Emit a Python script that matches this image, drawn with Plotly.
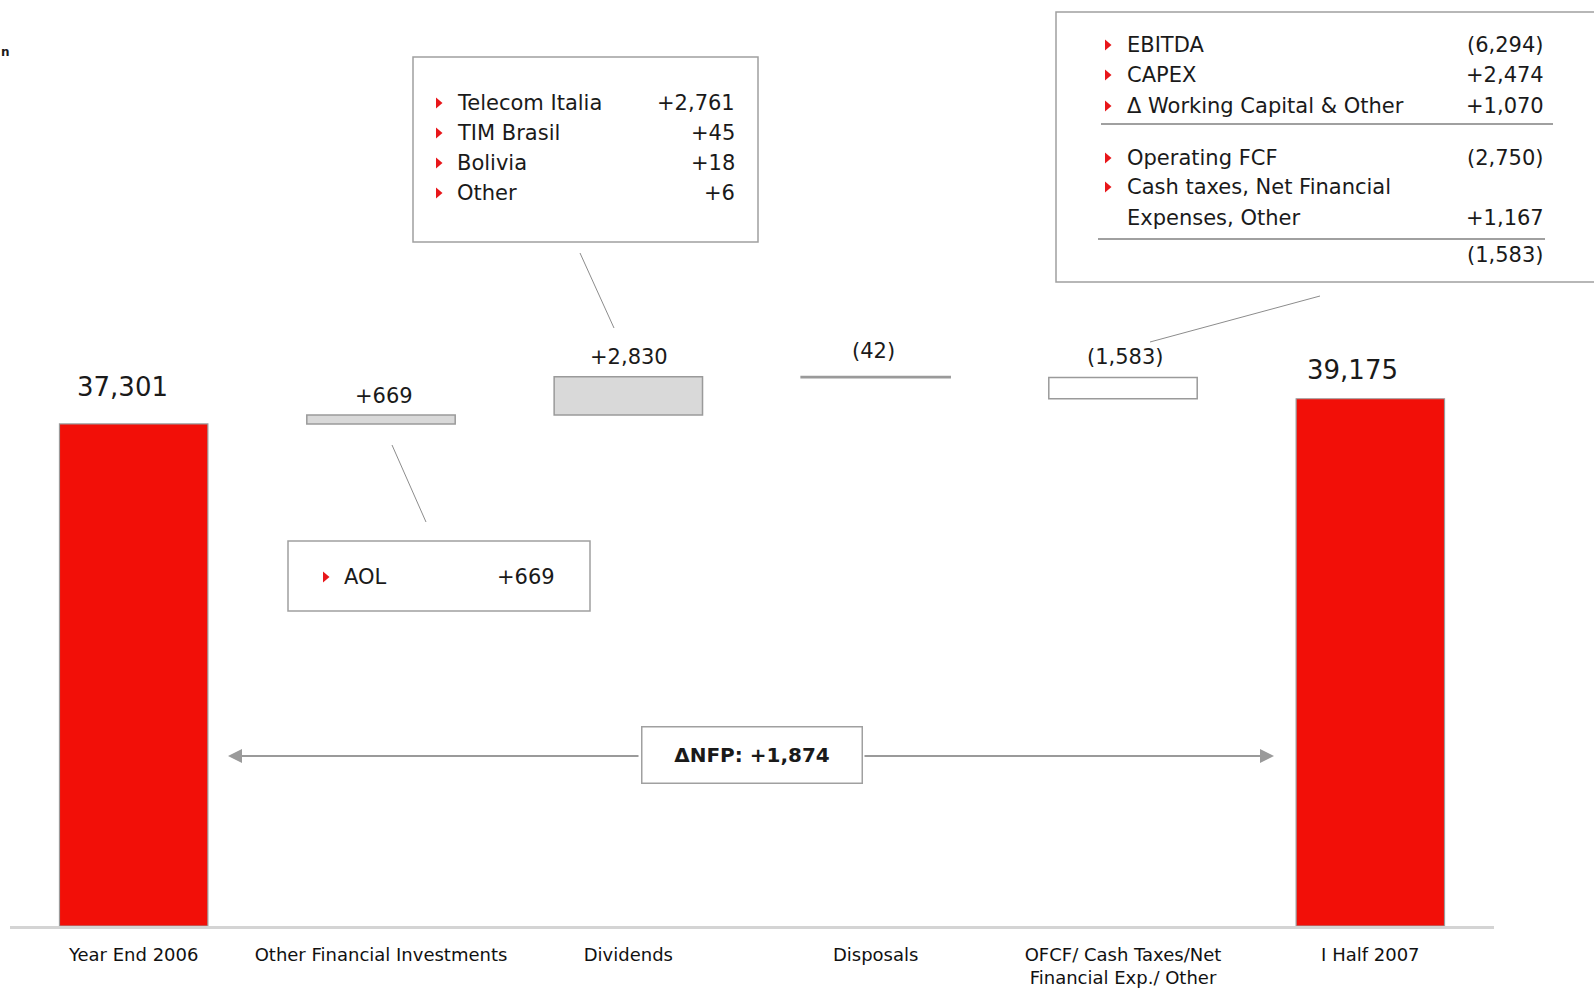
import plotly.graph_objects as go

# ---------------- data ----------------
categories = ["Year End 2006", "Other Financial Investments", "Dividends", "Disposals",
              "OFCF/ Cash Taxes/Net<br>Financial Exp./ Other", "I Half 2007"]
changes = [37301, 669, 2830, -42, -1583, 39175]   # first and last are totals
is_total = [True, False, False, False, False, True]

div_labels = ["Telecom Italia", "TIM Brasil", "Bolivia", "Other"]
div_values = ["+2,761", "+45", "+18", "+6"]

ofi_labels = ["AOL"]
ofi_values = ["+669"]

ofcf_labels = ["EBITDA", "CAPEX", "\u0394 Working Capital & Other",
               "Operating FCF", "Cash taxes, Net Financial", "Expenses, Other", ""]
ofcf_values = ["(6,294)", "+2,474", "+1,070", "(2,750)", "", "+1,167", "(1,583)"]
ofcf_bullets = [True, True, True, True, True, False, False]

corner_fragment = "n"

# ---------------- geometry helpers ----------------
W, H = 1594, 1000
ML, MR, MT, MB = 10, 100, 0, 74
PW, PH = W - ML - MR, H - MT - MB
FONT = "DejaVu Sans"
TXT = "#1a1a1a"
GRAY = "#a0a0a0"
RED = "#f20f08"


def X(px):
    return (px - ML) / PW


def Y(py):
    return (H - MB - py) / PH


# ---------------- waterfall bases ----------------
bases, heights, tops = [], [], []
running = 0
for v, t in zip(changes, is_total):
    if t:
        bases.append(0)
        heights.append(v)
        running = v
    else:
        new = running + v
        bases.append(min(running, new))
        heights.append(abs(v))
        running = new
    tops.append(bases[-1] + heights[-1])

fill_colors = [RED, "#d9d9d9", "#d9d9d9", "#a6a6a6", "#ffffff", RED]
line_widths = [1.2, 1.5, 1.5, 2.2, 1.5, 1.2]

fig = go.Figure()
fig.add_trace(go.Bar(
    x=categories, y=heights, base=bases, width=0.6,
    marker=dict(color=fill_colors, line=dict(color="#9a9a9a", width=line_widths)),
    hoverinfo="skip", showlegend=False,
))


def fmt(v, total):
    if total:
        return f"{v:,}"
    return f"+{v:,}" if v >= 0 else f"({-v:,})"


label_shift = [(-11, 37, 26), (3, 19, 21), (1, 20, 21), (-2, 26, 21), (2, 20, 21), (-18, 29, 26)]
annotations = []
for c, v, t, top, (xs, ys, fs) in zip(categories, changes, is_total, tops, label_shift):
    annotations.append(dict(
        x=c, y=top, xref="x", yref="y", text=fmt(v, t), showarrow=False,
        xanchor="center", yanchor="middle", xshift=xs, yshift=ys,
        font=dict(family=FONT, size=fs, color=TXT)))

shapes = []


def line(x0, y0, x1, y1, color="#8c8c8c", width=1):
    shapes.append(dict(type="line", xref="paper", yref="paper",
                       x0=X(x0), y0=Y(y0), x1=X(x1), y1=Y(y1),
                       line=dict(color=color, width=width)))


def rect(x0, y0, x1, y1):
    shapes.append(dict(type="rect", xref="paper", yref="paper",
                       x0=X(x0), y0=Y(y0), x1=X(x1), y1=Y(y1),
                       line=dict(color=GRAY, width=1.5), fillcolor="rgba(0,0,0,0)"))


def bullet(px, py):
    w, h = 6.5, 11
    path = (f"M {X(px)} {Y(py - h / 2)} L {X(px + w)} {Y(py)} "
            f"L {X(px)} {Y(py + h / 2)} Z")
    shapes.append(dict(type="path", xref="paper", yref="paper", path=path,
                       fillcolor="#e8161a", line=dict(width=0)))


def txt(px, py, s, anchor="left", size=21, bold=False):
    annotations.append(dict(
        x=X(px), y=Y(py), xref="paper", yref="paper",
        text=f"<b>{s}</b>" if bold else s, showarrow=False,
        xanchor=anchor, yanchor="middle",
        font=dict(family=FONT, size=size, color=TXT)))


# Dividends breakdown box
rect(413, 57, 758, 242)
for i, (lab, val) in enumerate(zip(div_labels, div_values)):
    yy = 103 + i * 30
    bullet(436, yy)
    txt(455, yy, lab)
    txt(737, yy, val, anchor="right")
line(580, 253, 614, 328)

# Other financial investments box
rect(288, 541, 590, 611)
for lab, val in zip(ofi_labels, ofi_values):
    bullet(323, 577)
    txt(342, 577, lab)
    txt(557, 577, val, anchor="right")
line(392, 445, 426, 522)

# OFCF breakdown box
rect(1056, 12, 1640, 282)
ofcf_rows_y = [45, 75, 106, 158, 187, 218, 255]
for yy, lab, val, b in zip(ofcf_rows_y, ofcf_labels, ofcf_values, ofcf_bullets):
    if b:
        bullet(1105, yy)
    if lab:
        txt(1125, yy, lab)
    if val:
        txt(1546, yy, val, anchor="right")
line(1101, 124, 1553, 124, color=GRAY, width=2)
line(1098, 239, 1545, 239, color=GRAY, width=2)
line(1320, 296, 1150, 342)

# Delta NFP arrow + box
delta = changes[-1] - changes[0]
annotations.append(dict(x=X(1274), y=Y(756), xref="paper", yref="paper", text="",
                        showarrow=True, ax=863 - 1274, ay=0, arrowhead=2, arrowsize=1.4,
                        arrowwidth=2, arrowcolor="#9a9a9a"))
annotations.append(dict(x=X(228), y=Y(756), xref="paper", yref="paper", text="",
                        showarrow=True, ax=640 - 228, ay=0, arrowhead=2, arrowsize=1.4,
                        arrowwidth=2, arrowcolor="#9a9a9a"))
annotations.append(dict(x=X(752), y=Y(755), xref="paper", yref="paper",
                        text=f"<b>\u0394NFP: +{delta:,}</b>", showarrow=False,
                        xanchor="center", yanchor="middle", width=219, height=55,
                        borderpad=0, bgcolor="white", bordercolor=GRAY, borderwidth=1.5,
                        font=dict(family=FONT, size=20, color=TXT)))

# small fragment at the top-left corner
annotations.append(dict(x=X(0), y=Y(52), xref="paper", yref="paper",
                        text=f"<b>{corner_fragment}</b>", showarrow=False, xanchor="left",
                        yanchor="middle", borderpad=0,
                        font=dict(family=FONT, size=12, color=TXT)))

fig.update_layout(
    width=W, height=H,
    margin=dict(l=ML, r=MR, t=MT, b=MB),
    paper_bgcolor="white", plot_bgcolor="white",
    shapes=shapes, annotations=annotations,
    xaxis=dict(showline=True, linecolor="#d4d4d4", linewidth=3, ticks="",
               showgrid=False, zeroline=False, ticklabelstandoff=10,
               tickfont=dict(family=FONT, size=18, color="#111111")),
    yaxis=dict(visible=False, range=[0, 68800], showgrid=False, zeroline=False),
    bargap=0.4,
)

fig.write_html("out.html")
